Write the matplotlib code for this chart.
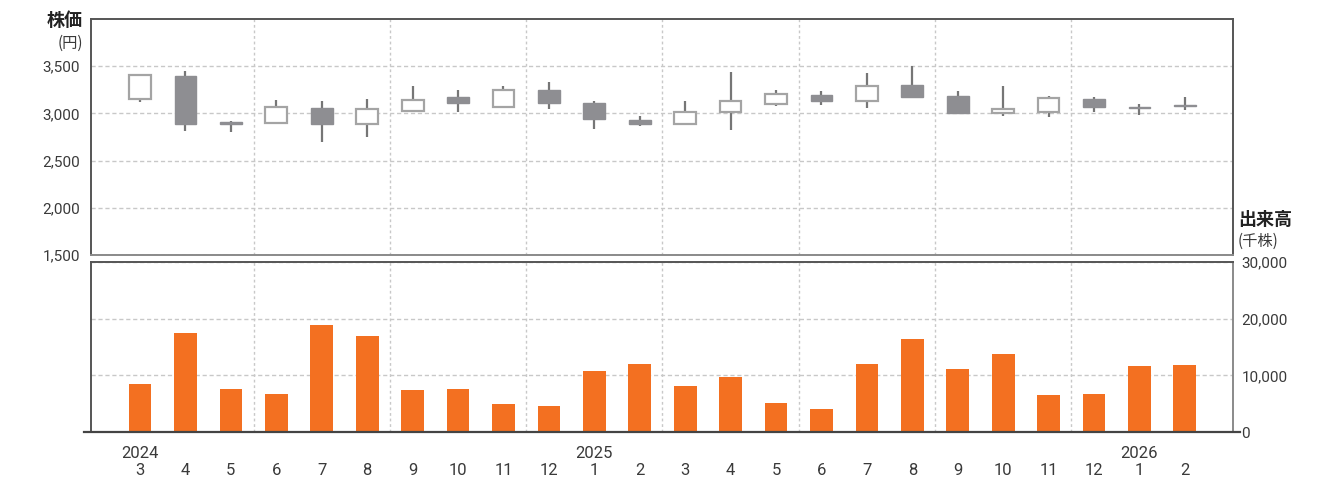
import numpy as np
import matplotlib
matplotlib.use('Agg')
import matplotlib.pyplot as plt
from matplotlib.lines import Line2D

plt.rcParams['font.family'] = ['Roboto', 'Noto Sans CJK JP', 'DejaVu Sans']

# monthly data, 2024/3 .. 2026/2
months = [3, 4, 5, 6, 7, 8, 9, 10, 11, 12, 1, 2, 3, 4, 5, 6, 7, 8, 9, 10, 11, 12, 1, 2]
years = {0: '2024', 10: '2025', 22: '2026'}

opens = [3150, 3400, 2905, 2900, 3060, 2885, 3030, 3170, 3065, 3245, 3115, 2935,
         2885, 3020, 3095, 3200, 3130, 3300, 3180, 3005, 3020, 3155, 3070, 3090]
closes = [3405, 2885, 2885, 3065, 2885, 3045, 3145, 3115, 3250, 3105, 2945, 2890,
          3010, 3130, 3210, 3130, 3285, 3175, 3005, 3045, 3165, 3065, 3060, 3080]
highs = [3420, 3445, 2922, 3138, 3128, 3149, 3295, 3245, 3295, 3330, 3128, 2968,
         3128, 3436, 3245, 3234, 3425, 3500, 3234, 3295, 3188, 3178, 3099, 3178]
lows = [3124, 2812, 2801, 2886, 2695, 2748, 3025, 3014, 3056, 3046, 2833, 2865,
        2883, 2822, 3074, 3088, 3056, 3170, 3000, 2971, 2961, 3014, 2986, 3039]

# volume (thousand shares)
volumes = [8500, 17500, 7650, 6750, 18950, 17000, 7450, 7650, 5000, 4650, 10800, 12050,
           8200, 9750, 5200, 4100, 12050, 16450, 11200, 13800, 6600, 6750, 11700, 11900]

price_ticks = [1500, 2000, 2500, 3000, 3500]
vol_ticks = [0, 10000, 20000, 30000]

WICK = '#767676'
FILL = '#8e8e92'
EDGE = '#a4a4a4'
ORANGE = '#f37021'
GRID = '#c8c8c8'
TXT = '#3a3a3a'

fig = plt.figure(figsize=(13.42, 4.8), dpi=100)
ax1 = fig.add_axes([91/1342, 1-255/480, 1142/1342, 236/480])
ax2 = fig.add_axes([91/1342, 1-432/480, 1142/1342, 170/480])

x = np.arange(len(months))
xlim = (-1.08, 24.06)

# --- candles
o = np.array(opens); c = np.array(closes)
ax1.vlines(x, lows, highs, color=WICK, lw=1.6, zorder=3)
up = c >= o
body_lo = np.minimum(o, c)
body_h = np.abs(c - o)
ax1.bar(x[up], body_h[up], bottom=body_lo[up], width=0.48, facecolor='white',
        edgecolor=EDGE, linewidth=1.6, zorder=4)
ax1.bar(x[~up], body_h[~up], bottom=body_lo[~up], width=0.48, facecolor=FILL,
        edgecolor=FILL, linewidth=1.0, zorder=4)

ax1.set_xlim(*xlim)
ax1.set_ylim(1500, 4000)
ax1.set_yticks(price_ticks)
ax1.set_yticklabels([f'{v:,}' for v in price_ticks])
ax1.set_xticks([])

# --- volume
ax2.bar(x, volumes, width=0.5, color=ORANGE, zorder=3)
ax2.set_xlim(*xlim)
ax2.set_ylim(0, 30000)
ax2.yaxis.tick_right()
ax2.set_yticks(vol_ticks)
ax2.set_yticklabels([f'{v:,}' for v in vol_ticks])
ax2.set_xticks(x)
ax2.set_xticklabels([f"{years.get(i, '')}\n{m}" for i, m in enumerate(months)])

for ax in (ax1, ax2):
    ax.set_xticks(np.arange(2.5, 21, 3), minor=True)
    ax.grid(axis='y', which='major', color=GRID, ls=(0, (3, 2)), lw=1.0, zorder=0)
    ax.grid(axis='x', which='minor', color=GRID, ls=(0, (2, 2)), lw=1.0, zorder=0)
    ax.tick_params(which='both', length=0, labelsize=11, labelcolor=TXT, pad=8)
    for s in ax.spines.values():
        s.set_color('#555555')
        s.set_linewidth(1.4)

ax2.tick_params(axis='x', labelsize=12, pad=10)
ax2.tick_params(axis='y', pad=6)
ax1.spines['bottom'].set_color('#8a8a8a')
ax2.spines['right'].set_color('#8a8a8a')
ax2.spines['bottom'].set_visible(False)
ax2.add_line(Line2D([-0.006, 1.006], [0, 0], transform=ax2.transAxes, color='#444444',
                    lw=1.6, clip_on=False, zorder=5))

# axis titles
fig.text(83/1342, 1-11/480, '株価', ha='right', va='top', fontsize=13,
         fontweight='bold', color='#222222', family=['Noto Sans CJK JP'])
fig.text(83/1342, 1-35/480, '(円)', ha='right', va='top', fontsize=11,
         color=TXT, family=['Noto Sans CJK JP'])
fig.text(1238/1342, 1-210/480, '出来高', ha='left', va='top', fontsize=13,
         fontweight='bold', color='#222222', family=['Noto Sans CJK JP'])
fig.text(1238/1342, 1-233/480, '(千株)', ha='left', va='top', fontsize=11,
         color=TXT, family=['Noto Sans CJK JP'])

fig.savefig('out.png', dpi=100, facecolor='white')
